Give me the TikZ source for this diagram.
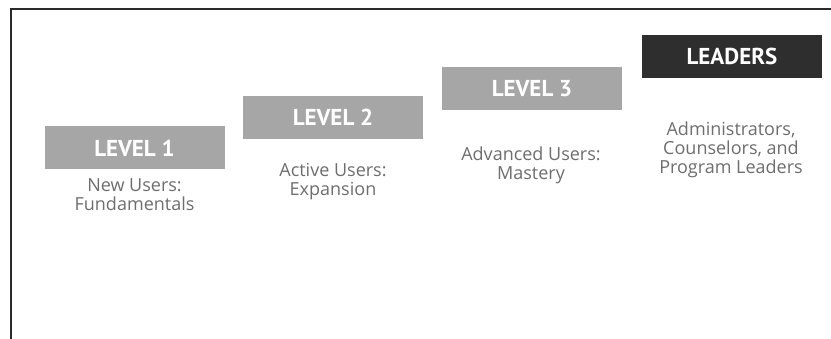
\documentclass[tikz,border=0pt]{standalone}
\usepackage{fontspec}
\setmainfont{Open Sans}
\newfontfamily\labelfont{PT Sans}
\definecolor{levelgray}{HTML}{A6A6A6}
\definecolor{leaddark}{HTML}{2E2E2E}
\definecolor{bodygray}{HTML}{6E6E6E}
\definecolor{framegray}{HTML}{2A2A2A}
\begin{document}
\begin{tikzpicture}[x=1pt,y=-1pt,
  levelbox/.style={rectangle, fill=levelgray, minimum width=180pt, minimum height=43pt, inner sep=0pt,
     text=white, font=\labelfont\bfseries\fontsize{23}{23}\selectfont},
  leadbox/.style={levelbox, fill=leaddark},
  desc/.style={align=center, text=bodygray, inner sep=0pt, font=\fontsize{18}{19}\selectfont}]
\useasboundingbox (0,0) rectangle (831,339);
\fill[white] (0,0) rectangle (831,339);
\draw[framegray, line width=2.2pt] (11,339) -- (11,9) -- (831,9);

\node[levelbox] (l1) at (134.5,148) {LEVEL 1};
\node[levelbox] (l2) at (333,117.5) {LEVEL 2};
\node[levelbox] (l3) at (532,88.5) {LEVEL 3};
\node[leadbox]  (ld) at (732,56.5) {LEADERS};

\node[desc] (d1) at (134.5,195) {New Users:\\Fundamentals};
\node[desc] (d2) at (333,182) {Active Users:\\Expansion};
\node[desc] (d3) at (531,165) {Advanced Users:\\Mastery};
\node[desc] (d4) at (731,150) {Administrators,\\Counselors, and\\Program Leaders};
\end{tikzpicture}
\end{document}
